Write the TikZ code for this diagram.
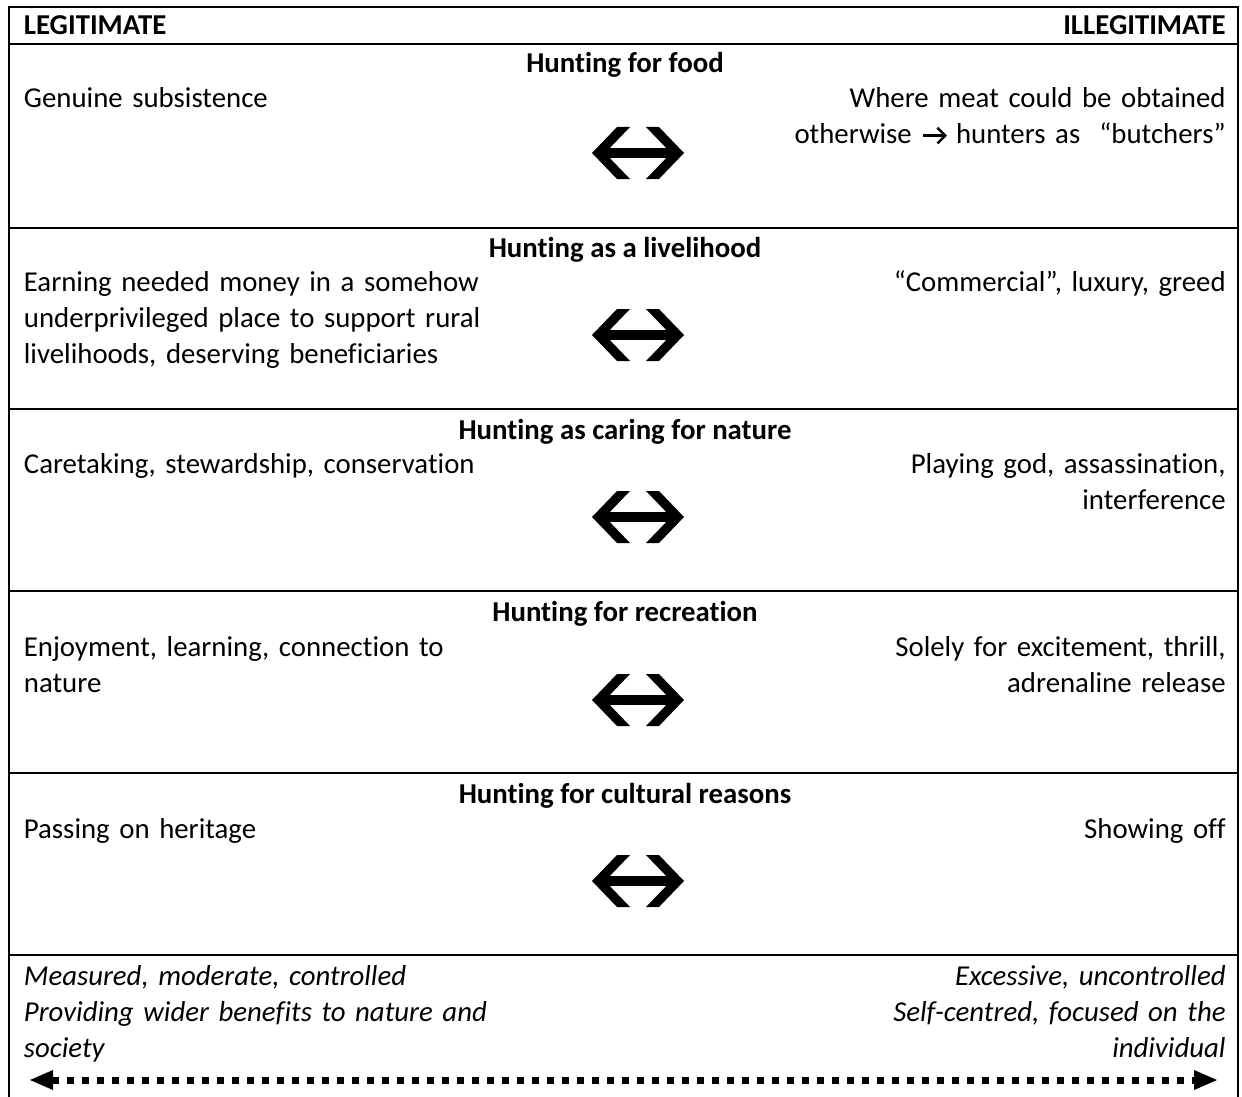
\documentclass[tikz,border=0pt]{standalone}
\usepackage{fontspec}
\setmainfont{Carlito}[Ligatures=NoCommon]
\usetikzlibrary{arrows.meta}
\newcommand{\textrarrow}{\tikz[baseline=0pt, x=1pt, y=1pt, line width=1.2pt]{%
  \draw (0,4.2) -- (11.2,4.2);
  \draw[line join=miter, miter limit=10] (7.4,8.1) -- (11.3,4.2) -- (7.4,0.3);}}
\begin{document}
\begin{tikzpicture}[x=0.5pt,y=-0.5pt,
  frame/.style={line width=1pt},
  txt/.style={inner sep=0pt, font=\fontsize{14.4}{18}\selectfont},
  lefttxt/.style={txt, anchor=base west, text width=280pt, align=left},
  righttxt/.style={txt, anchor=base east, text width=280pt, align=right},
  rowtitle/.style={txt, anchor=base, font=\fontsize{14.4}{18}\selectfont\bfseries},
  foottxtl/.style={lefttxt, font=\fontsize{14.4}{18}\selectfont\itshape},
  foottxtr/.style={righttxt, font=\fontsize{14.4}{18}\selectfont\itshape},
  dblarrow/.pic={
    \fill (-21,-26) -- (-46,0) -- (-21,26) -- (-8,26) -- (-33,0) -- (-8,-26) -- cycle;
    \fill (21,-26) -- (46,0) -- (21,26) -- (8,26) -- (33,0) -- (8,-26) -- cycle;
    \fill (-38,-4.7) rectangle (38,4.7);
  },
  dotarrow/.style={line width=3.5pt, dash pattern=on 3.5pt off 4pt,
    {Triangle[length=12pt,width=9pt]}-{Triangle[length=12pt,width=9pt]}}
]
\useasboundingbox (0,0) rectangle (1242,1097);
\fill[white] (0,0) rectangle (1242,1097);

% frame
\draw[frame] (9,1097) -- (9,7) -- (1238,7) -- (1238,1097);
\foreach \yy in {44,228,409,591,773,955}
  \draw[frame] (9,\yy) -- (1238,\yy);

% header
\node[txt, anchor=base west, font=\fontsize{14.4}{18}\selectfont\bfseries] (hl) at (23.5,34.5) {LEGITIMATE};
\node[txt, anchor=base east, font=\fontsize{14.4}{18}\selectfont\bfseries] (hr) at (1226,34.5) {ILLEGITIMATE};

% row 1
\node[rowtitle] (t1) at (625,73) {Hunting for food};
\node[lefttxt] (l1) at (23.5,108) {Genuine subsistence};
\node[righttxt] (r1) at (1226,108) {Where meat could be obtained\\otherwise \textrarrow{} hunters as~ “butchers”};
\pic at (638,153) {dblarrow};

% row 2
\node[rowtitle] (t2) at (625,257) {Hunting as a livelihood};
\node[lefttxt] (l2) at (23.5,291) {Earning needed money in a somehow\\underprivileged place to support rural\\livelihoods, deserving beneficiaries};
\node[righttxt] (r2) at (1226,291) {“Commercial”, luxury, greed};
\pic at (638,335) {dblarrow};

% row 3
\node[rowtitle] (t3) at (625,439) {Hunting as caring for nature};
\node[lefttxt] (l3) at (23.5,473) {Caretaking, stewardship, conservation};
\node[righttxt] (r3) at (1226,473) {Playing god, assassination,\\interference};
\pic at (638,517) {dblarrow};

% row 4
\node[rowtitle] (t4) at (625,621) {Hunting for recreation};
\node[lefttxt] (l4) at (23.5,656) {Enjoyment, learning, connection to\\nature};
\node[righttxt] (r4) at (1226,656) {Solely for excitement, thrill,\\adrenaline release};
\pic at (638,700) {dblarrow};

% row 5
\node[rowtitle] (t5) at (625,803) {Hunting for cultural reasons};
\node[lefttxt] (l5) at (23.5,838) {Passing on heritage};
\node[righttxt] (r5) at (1226,838) {Showing off};
\pic at (638,881) {dblarrow};

% footer
\node[foottxtl] (fl) at (23.5,985) {Measured, moderate, controlled\\Providing wider benefits to nature and\\society};
\node[foottxtr] (fr) at (1226,985) {Excessive, uncontrolled\\Self-centred, focused on the\\individual};
\coordinate (al) at (29,1080);
\coordinate (ar) at (1218,1080);
\draw[dotarrow] (al) -- (ar);
\end{tikzpicture}
\end{document}
